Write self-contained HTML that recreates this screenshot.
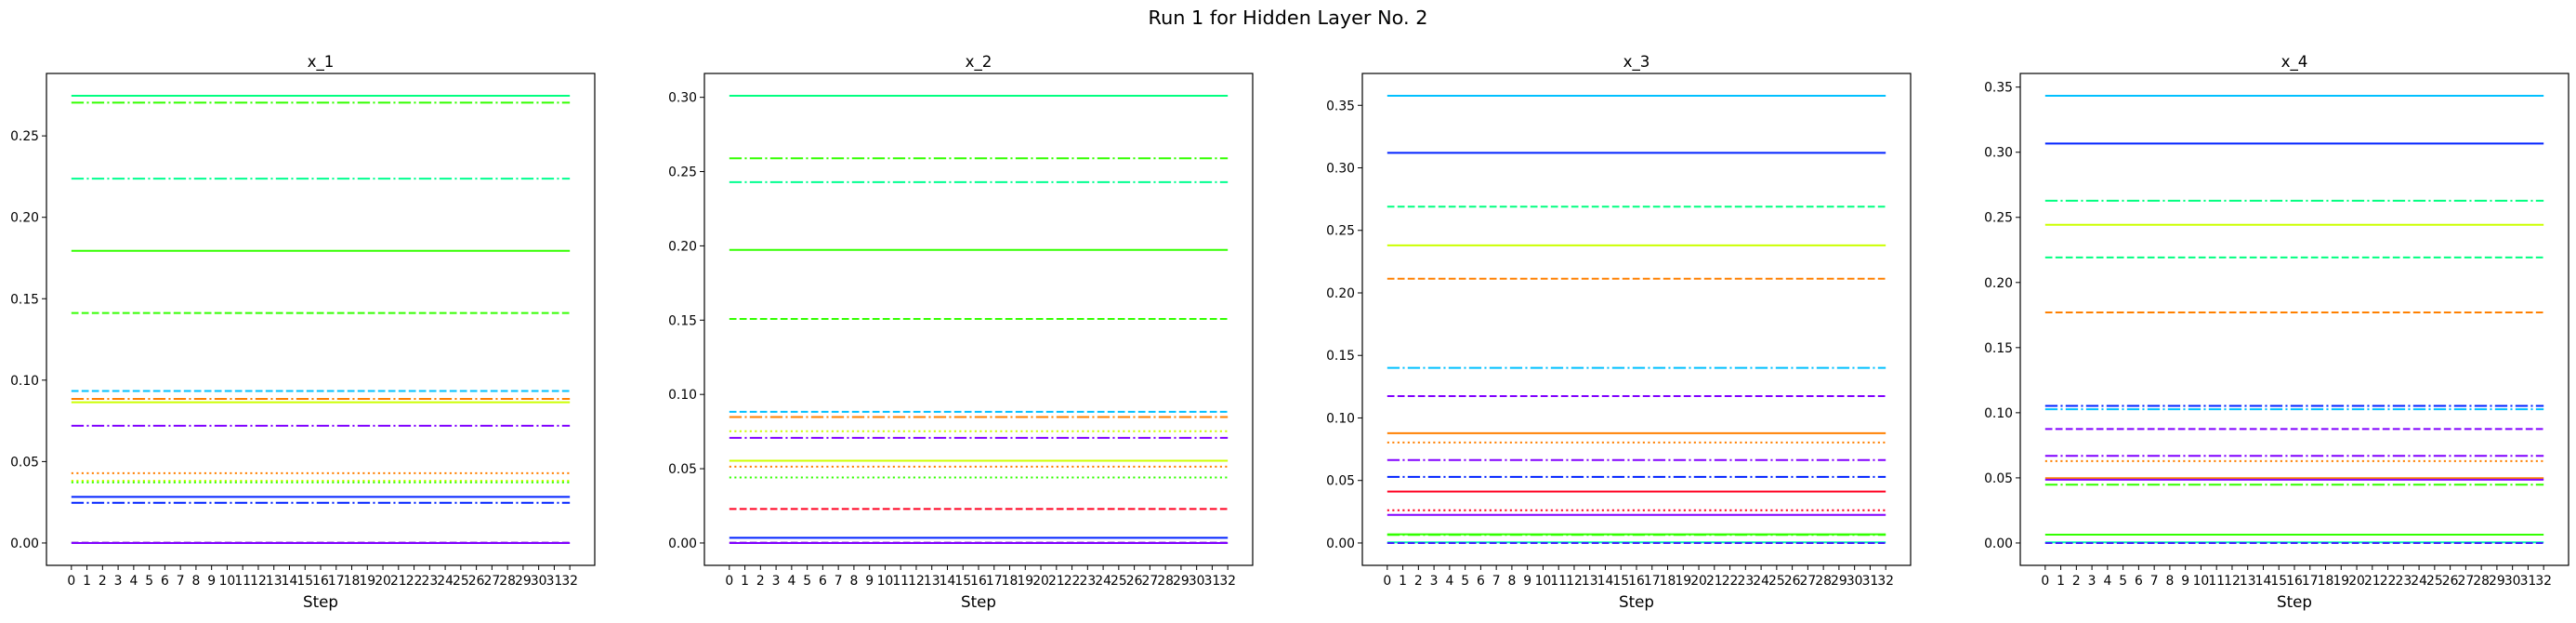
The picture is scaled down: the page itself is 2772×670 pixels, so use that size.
<!DOCTYPE html>
<html><head><meta charset="utf-8"><style>
html,body{margin:0;padding:0;background:#fff;}
svg text{font-family:"DejaVu Sans","Liberation Sans",sans-serif;fill:#000;}
</style></head><body>
<svg id="fig" width="2772" height="665" viewBox="0 0 2772 665" xmlns="http://www.w3.org/2000/svg">
<text x="1386" y="26" font-size="20.8" text-anchor="middle">Run 1 for Hidden Layer No. 2</text>
</svg>
<script>
const titles = ["x_1","x_2","x_3","x_4"];
const steps = Array.from({length:33},(_,i)=>i);
// series values per subplot (constant across steps)
const vals1 = [0.2746,0.2704,0.2237,0.1794,0.1412,0.0933,0.0885,0.0864,0.0720,0.0429,0.0382,0.0372,0.0283,0.0247,0.0005,0.0];
const cols1 = ["#00ff80","#33ff00","#00ff90","#33ff00","#33ff00","#00c0ff","#ff8000","#ccff00","#8000ff","#ff8000","#ccff00","#33ff00","#0022ff","#0022ff","#c0a0e0","#8000ff"];
const sty1  = ["-","-.","-.","-","--","--","-.","-","-.",":",":",":","-","-.","--","-"];
const vals2 = [0.3010,0.2589,0.2429,0.1973,0.1508,0.0883,0.0848,0.0752,0.0708,0.0554,0.0514,0.0441,0.0229,0.0035,0.0005,0.0];
const cols2 = ["#00ff80","#33ff00","#00ff90","#33ff00","#33ff00","#00c0ff","#ff8000","#ccff00","#8000ff","#ccff00","#ff8000","#33ff00","#ff0020","#0022ff","#c0a0e0","#8000ff"];
const sty2  = ["-","-.","-.","-","--","--","-.",":","-.","-",":",":","--","-","--","-"];
const vals3 = [0.3576,0.3120,0.2690,0.2380,0.2113,0.1400,0.1175,0.0878,0.0804,0.0663,0.0529,0.0411,0.0262,0.0225,0.0069,0.0065,0.0005,0.0];
const cols3 = ["#00c0ff","#0022ff","#00ff80","#ccff00","#ff8000","#00c0ff","#8000ff","#ff8000","#ff8000","#8000ff","#0022ff","#ff0020","#ff0020","#8000ff","#33ff00","#33ff00","#00ffb0","#4020ff"];
const sty3  = ["-","-","--","-","--","-.","--","-",":","-.","-.","-",":","-","-","-.","-","--"];
const vals4 = [0.3433,0.3067,0.2628,0.2443,0.2192,0.1770,0.1053,0.1027,0.0875,0.0669,0.0629,0.0498,0.0486,0.0448,0.0064,0.0005,0.0];
const cols4 = ["#00c0ff","#0022ff","#00ff80","#ccff00","#00ff80","#ff8000","#0022ff","#00c0ff","#8000ff","#8000ff","#ff8000","#ff8000","#8000ff","#33ff00","#33ff00","#00ffb0","#4020ff"];
const sty4  = ["-","-","-.","-","--","--","-.","-.","--","-.",":","-","-","-.","-","-","--"];
const yticks1 = [0.00,0.05,0.10,0.15,0.20,0.25];
const yticks2 = [0.00,0.05,0.10,0.15,0.20,0.25,0.30];
const yticks3 = [0.00,0.05,0.10,0.15,0.20,0.25,0.30,0.35];
const yticks4 = [0.00,0.05,0.10,0.15,0.20,0.25,0.30,0.35];

const NS="http://www.w3.org/2000/svg";
const svg=document.getElementById('fig');
function mk(tag,attrs,parent){const e=document.createElementNS(NS,tag);for(const k in attrs)e.setAttribute(k,attrs[k]);(parent||svg).appendChild(e);return e;}
const dashes={"-":"none","--":"7.7 3.3","-.":"13.3 3.3 2.1 3.3",":":"2.1 3.4"};
const panels=[[vals1,cols1,sty1,yticks1],[vals2,cols2,sty2,yticks2],[vals3,cols3,sty3,yticks3],[vals4,cols4,sty4,yticks4]];
const axLefts=[50,758,1466,2174], axW=590, axTop=79, axBot=608;
panels.forEach((p,pi)=>{
  const [vals,cols,sty,yt]=p;
  const L=axLefts[pi], R=L+axW;
  const g=mk('g',{});
  
  
  const mn=Math.min(...vals), mx=Math.max(...vals), rg=mx-mn;
  const y0=mn-0.05*rg, y1=mx+0.05*rg;
  const ys=v=>axBot-(v-y0)/(y1-y0)*(axBot-axTop);
  const xs=s=>L+axW*(0.05/1.1)+ (s-steps[0])/(steps[steps.length-1]-steps[0])*axW/1.1;
  vals.forEach((v,i)=>{
    const ln=mk('line',{x1:xs(steps[0]),x2:xs(steps[steps.length-1]),y1:ys(v),y2:ys(v),stroke:cols[i],'stroke-width':2,'stroke-dasharray':dashes[sty[i]]},g);
    
    
  });
  const fr=mk('rect',{x:L,y:axTop,width:axW,height:axBot-axTop,fill:'none',stroke:'#000','stroke-width':1.2},g);
  
  
  yt.forEach(t=>{
    const y=ys(t);
    mk('line',{x1:L-5,x2:L,y1:y,y2:y,stroke:'#000','stroke-width':1},g);
    const tx=mk('text',{x:L-8,y:y+5,'font-size':13.9,'text-anchor':'end'},g);
    tx.textContent=t.toFixed(2);
    
    
  });
  steps.forEach(s=>{
    const x=xs(s);
    mk('line',{x1:x,x2:x,y1:axBot,y2:axBot+5,stroke:'#000','stroke-width':1},g);
    const tx=mk('text',{x:x,y:axBot+21,'font-size':13.9,'text-anchor':'middle'},g);
    tx.textContent=String(s);
    
    
  });
  const tt=mk('text',{x:L+axW/2,y:axTop-7,'font-size':16.7,'text-anchor':'middle'},g);
  tt.textContent=titles[pi];
  
  
  const xl=mk('text',{x:L+axW/2,y:axBot+45,'font-size':16.7,'text-anchor':'middle'},g);
  xl.textContent='Step';
  
  
});
</script>
</body></html>
